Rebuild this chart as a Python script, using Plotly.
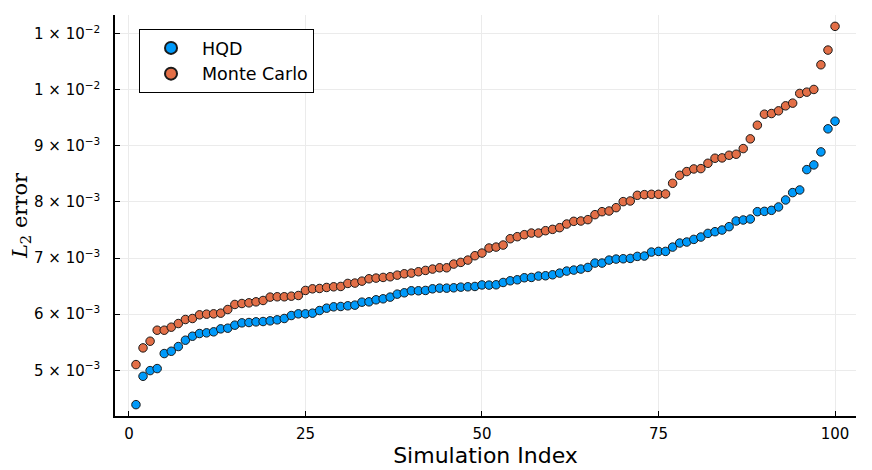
import plotly.graph_objects as go

index = list(range(1, 101))

hqd = [4.387, 4.893, 4.994, 5.030, 5.298, 5.339, 5.423, 5.536, 5.607, 5.655,
       5.667, 5.685, 5.738, 5.750, 5.804, 5.845, 5.851, 5.863, 5.869, 5.881,
       5.899, 5.923, 5.976, 6.006, 6.006, 6.018, 6.065, 6.107, 6.131, 6.137,
       6.149, 6.161, 6.214, 6.220, 6.256, 6.274, 6.304, 6.357, 6.381, 6.417,
       6.417, 6.423, 6.452, 6.464, 6.464, 6.470, 6.482, 6.488, 6.494, 6.521,
       6.518, 6.524, 6.565, 6.595, 6.613, 6.649, 6.655, 6.679, 6.685, 6.702,
       6.732, 6.768, 6.786, 6.804, 6.833, 6.911, 6.911, 6.964, 6.982, 6.988,
       6.994, 7.030, 7.036, 7.107, 7.119, 7.119, 7.196, 7.268, 7.286, 7.333,
       7.375, 7.440, 7.470, 7.500, 7.560, 7.661, 7.679, 7.696, 7.827, 7.833,
       7.851, 7.911, 8.036, 8.167, 8.214, 8.577, 8.661, 8.893, 9.304, 9.440]

monte_carlo = [5.101, 5.399, 5.518, 5.714, 5.714, 5.768, 5.833, 5.905, 5.923, 5.988,
               6.000, 6.006, 6.018, 6.083, 6.173, 6.190, 6.202, 6.220, 6.244, 6.304,
               6.310, 6.310, 6.321, 6.333, 6.423, 6.452, 6.458, 6.476, 6.488, 6.494,
               6.548, 6.554, 6.589, 6.631, 6.643, 6.655, 6.667, 6.696, 6.720, 6.732,
               6.756, 6.780, 6.804, 6.827, 6.827, 6.893, 6.923, 6.964, 7.042, 7.089,
               7.179, 7.196, 7.232, 7.345, 7.381, 7.417, 7.446, 7.446, 7.488, 7.512,
               7.542, 7.607, 7.655, 7.661, 7.685, 7.774, 7.827, 7.839, 7.899, 8.006,
               8.018, 8.119, 8.131, 8.137, 8.137, 8.143, 8.333, 8.476, 8.542, 8.589,
               8.595, 8.690, 8.780, 8.786, 8.833, 8.851, 8.952, 9.125, 9.369, 9.565,
               9.577, 9.625, 9.714, 9.762, 9.935, 9.958, 10.006, 10.446, 10.708, 11.131]

# values above are in units of 1e-3
hqd = [v * 1e-3 for v in hqd]
monte_carlo = [v * 1e-3 for v in monte_carlo]

x_ticks = [0, 25, 50, 75, 100]
y_ticks = [0.005, 0.006, 0.007, 0.008, 0.009, 0.010, 0.011]
y_tick_labels = ["5 × 10<sup>−3</sup>", "6 × 10<sup>−3</sup>", "7 × 10<sup>−3</sup>",
                 "8 × 10<sup>−3</sup>", "9 × 10<sup>−3</sup>", "1 × 10<sup>−2</sup>",
                 "1 × 10<sup>−2</sup>"]

series_names = ["HQD", "Monte Carlo"]
colors = ["#009AFA", "#E36F47"]

fig = go.Figure()
for name, vals, col in zip(series_names, [hqd, monte_carlo], colors):
    fig.add_trace(go.Scatter(
        x=index, y=vals, mode="markers", name=name,
        marker=dict(size=8.5, color=col, line=dict(color="#1a1a1a", width=1)),
    ))

ymin = min(hqd + monte_carlo)
ymax = max(hqd + monte_carlo)
pad = 0.03 * (ymax - ymin)

# The page body has an 8px default margin, so the figure is drawn 8px smaller
# and offset; margins are set so the plot area lands where the reference has it.
fig.update_layout(
    width=864, height=462,
    margin=dict(l=107, r=16, t=7, b=54, autoexpand=False),
    paper_bgcolor="white", plot_bgcolor="white",
    font=dict(family="DejaVu Sans", color="black"),
    showlegend=True,
    legend=dict(
        x=0.0324, y=0.965, xanchor="left", yanchor="top",
        bgcolor="white", bordercolor="black", borderwidth=1,
        font=dict(size=17.5, family="DejaVu Sans"),
        itemsizing="constant", tracegroupgap=0, itemwidth=52,
    ),
    xaxis=dict(
        range=[-1.97, 102.97], tickvals=x_ticks, automargin=False,
        ticks="inside", ticklen=5, tickcolor="black", tickwidth=1,
        showline=True, linecolor="black", linewidth=1.5, mirror=False,
        showgrid=True, gridcolor="#ebebeb", gridwidth=1, zeroline=False,
        tickfont=dict(size=15), ticklabelstandoff=3,
        title=dict(text="Simulation Index", font=dict(size=22), standoff=5),
    ),
    yaxis=dict(
        range=[ymin - pad, ymax + pad], tickvals=y_ticks, ticktext=y_tick_labels,
        automargin=False,
        ticks="inside", ticklen=5, tickcolor="black", tickwidth=1,
        showline=True, linecolor="black", linewidth=1.5, mirror=False,
        showgrid=True, gridcolor="#ebebeb", gridwidth=1, zeroline=False,
        tickfont=dict(size=15), ticklabelstandoff=10,
        title=dict(text="<i>L</i><sub>2</sub> error",
                   font=dict(size=21, family="DejaVu Serif"), standoff=6),
    ),
)

fig.write_html("out.html")
